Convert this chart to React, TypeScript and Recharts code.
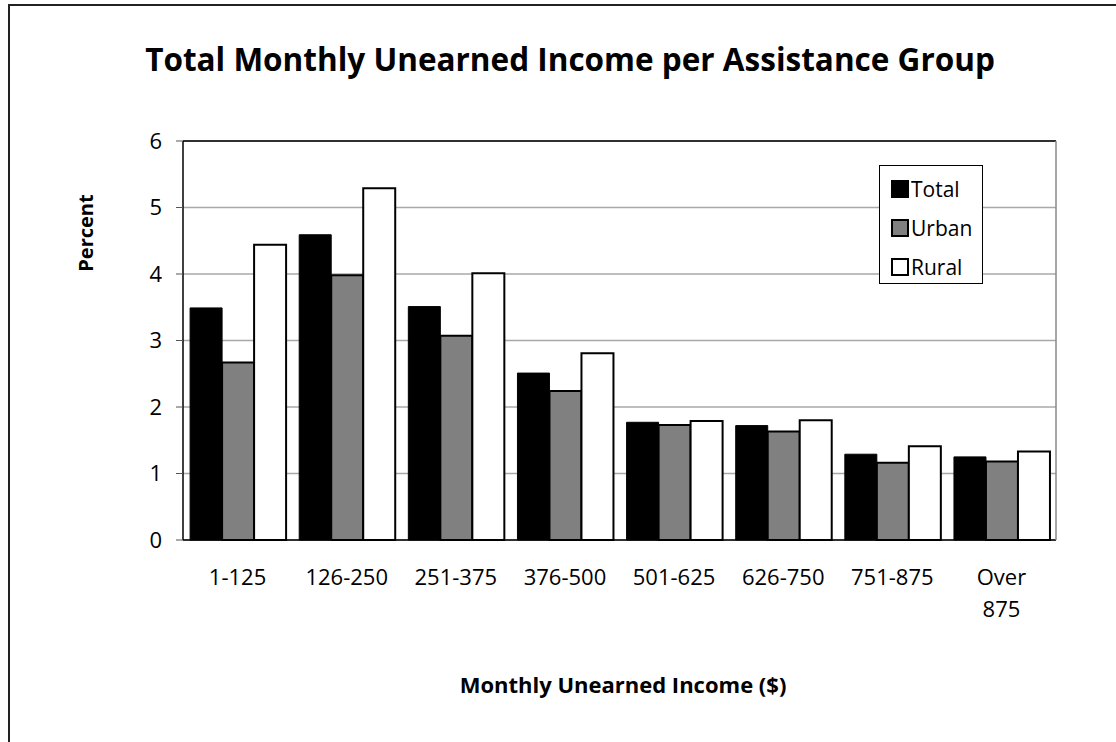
import { BarChart, Bar, XAxis, YAxis, CartesianGrid, ReferenceLine } from 'recharts';

const categories = ['1-125', '126-250', '251-375', '376-500', '501-625', '626-750', '751-875', 'Over 875'];
const totalPct = [3.49, 4.59, 3.51, 2.51, 1.77, 1.72, 1.29, 1.25];
const urbanPct = [2.67, 3.98, 3.07, 2.24, 1.73, 1.63, 1.16, 1.18];
const ruralPct = [4.44, 5.29, 4.01, 2.81, 1.79, 1.8, 1.41, 1.33];
const yTicks = [0, 1, 2, 3, 4, 5, 6];

const data = categories.map((c, i) => ({
  range: c,
  Total: totalPct[i],
  Urban: urbanPct[i],
  Rural: ruralPct[i],
}));

const FONT = '"Open Sans", sans-serif';

const legendItems = [
  { name: 'Total', fill: '#000' },
  { name: 'Urban', fill: '#808080' },
  { name: 'Rural', fill: '#fff' },
];

// splits "Over 875" onto two lines like the original
function XTick(props: any) {
  const { x, y, payload } = props;
  const lines = String(payload.value).split(' ');
  return (
    <text x={x} y={y} textAnchor="middle" fontSize={22} fontFamily={FONT} fill="#000">
      {lines.map((ln, i) => (
        <tspan key={i} x={x} dy={i === 0 ? 16 : 32}>
          {ln}
        </tspan>
      ))}
    </text>
  );
}

function LegendBox() {
  return (
    <div
      style={{
        position: 'absolute',
        left: 879,
        top: 165,
        border: '1px solid #000',
        background: '#fff',
        width: 104,
        height: 119,
        boxSizing: 'border-box',
        padding: '3px 0 0 11px',
        fontFamily: FONT,
      }}
    >
      {legendItems.map((it) => (
        <div key={it.name} style={{ display: 'flex', alignItems: 'center', height: 39 }}>
          <span
            style={{
              display: 'inline-block',
              width: 18,
              height: 18,
              boxSizing: 'border-box',
              background: it.fill,
              border: '2px solid #000',
              marginRight: 2,
            }}
          />
          <span style={{ fontSize: 21, color: '#000' }}>{it.name}</span>
        </div>
      ))}
    </div>
  );
}

export default function App() {
  return (
    <div style={{ position: 'fixed', left: 0, top: 0, width: 1116, height: 742, background: '#fff', overflow: 'hidden' }}>
      <div
        style={{
          position: 'absolute',
          left: 8,
          top: 4,
          width: 1200,
          height: 800,
          borderLeft: '2px solid #222',
          borderTop: '2px solid #222',
        }}
      />
      <div
        style={{
          position: 'absolute',
          left: 0,
          top: 41,
          width: 1140,
          textAlign: 'center',
          fontFamily: FONT,
          fontWeight: 700,
          fontSize: 31.5,
          lineHeight: '36px',
          color: '#000',
        }}
      >
        Total Monthly Unearned Income per Assistance Group
      </div>
      <div
        style={{
          position: 'absolute',
          left: 85,
          top: 233,
          transform: 'translate(-50%, -50%) rotate(-90deg)',
          fontFamily: FONT,
          fontWeight: 700,
          fontSize: 20,
          whiteSpace: 'nowrap',
          color: '#000',
        }}
      >
        Percent
      </div>
      <div
        style={{
          position: 'absolute',
          left: 323,
          top: 670,
          width: 600,
          textAlign: 'center',
          fontFamily: FONT,
          fontWeight: 700,
          fontSize: 22,
          lineHeight: '28px',
          color: '#000',
        }}
      >
        Monthly Unearned Income ($)
      </div>
      <div style={{ position: 'absolute', left: 0, top: 0 }}>
        <BarChart
          width={1116}
          height={742}
          data={data}
          margin={{ top: 141, right: 59, bottom: 122, left: 0 }}
          barGap={0}
          barCategoryGap="6.5%"
        >
          <CartesianGrid horizontal vertical={false} stroke="#a8a8a8" strokeWidth={1.5} />
          <XAxis
            dataKey="range"
            height={80}
            interval={0}
            tickLine={false}
            tickSize={0}
            tickMargin={29}
            axisLine={{ stroke: '#000', strokeWidth: 1.5 }}
            tick={<XTick />}
          />
          <YAxis
            width={183}
            domain={[0, 6]}
            ticks={yTicks}
            tickSize={7}
            tickMargin={14}
            axisLine={{ stroke: '#000', strokeWidth: 1.5 }}
            tickLine={{ stroke: '#555' }}
            tick={{ fontSize: 22, fontFamily: FONT, fill: '#000' }}
          />
          <YAxis
            yAxisId="right"
            orientation="right"
            width={1}
            domain={[0, 6]}
            ticks={yTicks}
            tick={false}
            tickLine={false}
            axisLine={{ stroke: '#888', strokeWidth: 1.5 }}
          />
          <ReferenceLine y={6} stroke="#000" strokeWidth={1.5} />
          <Bar dataKey="Total" fill="#000" stroke="#000" strokeWidth={1} isAnimationActive={false} />
          <Bar dataKey="Urban" fill="#808080" stroke="#000" strokeWidth={2} isAnimationActive={false} />
          <Bar dataKey="Rural" fill="#fff" stroke="#000" strokeWidth={2} isAnimationActive={false} />
        </BarChart>
      </div>
      <LegendBox />
    </div>
  );
}
